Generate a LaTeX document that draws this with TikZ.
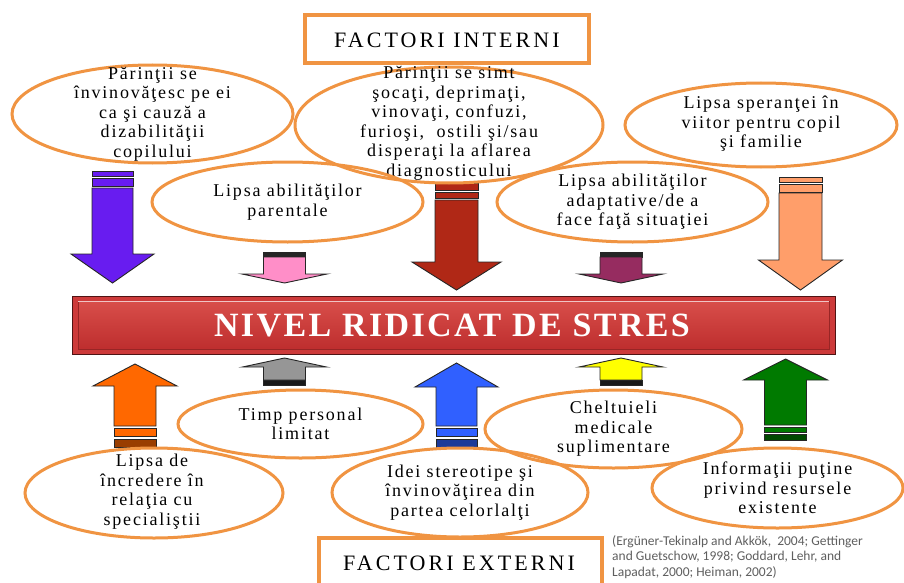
\documentclass[tikz,border=0pt]{standalone}
\usepackage{fontspec}
\setmainfont{Liberation Serif}
\newfontfamily\citefont{Carlito}
\usetikzlibrary{shapes.geometric}
\definecolor{ellor}{RGB}{240,148,66}
\definecolor{cpurple}{RGB}{104,28,240}
\definecolor{cpink}{RGB}{255,142,200}
\definecolor{cdred}{RGB}{176,40,22}
\definecolor{cplum}{RGB}{150,44,96}
\definecolor{clor}{RGB}{255,158,106}
\definecolor{corange}{RGB}{255,104,0}
\definecolor{cgray}{RGB}{150,150,150}
\definecolor{cblue}{RGB}{48,96,255}
\definecolor{cyellow}{RGB}{255,255,0}
\definecolor{cgreen}{RGB}{0,122,0}
\definecolor{barout}{RGB}{205,58,58}
\definecolor{bartop}{RGB}{216,78,74}
\definecolor{barbot}{RGB}{190,46,46}
\definecolor{bardark}{RGB}{80,20,20}
\definecolor{citegray}{RGB}{95,95,95}
\newcommand\ArrShape[7]{% cx, start y, head base y, tip y, colour, shaft half, head half
  \filldraw[arrline, fill=#5] ({#1-#6},#2) -- ({#1+#6},#2) -- ({#1+#6},#3) -- ({#1+#7},#3) -- (#1,#4) -- ({#1-#7},#3) -- ({#1-#6},#3) -- cycle;}
\newcommand\ArrBand[5]{% cx, y1, y2, half width, colour
  \filldraw[arrline, fill=#5] ({#1-#4},#2) rectangle ({#1+#4},#3);}
\begin{document}
\begin{tikzpicture}[x=1pt,y=-1pt,
  arrline/.style={draw=black!85, line width=0.9pt},
  ell/.style={ellipse, draw=ellor, line width=3pt, inner sep=0pt},
  etext/.style={align=center, inner sep=0pt, font=\fontsize{18pt}{19.5pt}\selectfont\addfontfeatures{LetterSpace=10}},
  hbox/.style={draw=ellor, line width=3.5pt, fill=white},
  htext/.style={inner sep=0pt, font=\fontsize{22pt}{24pt}\selectfont\addfontfeatures{LetterSpace=14}}]
\useasboundingbox (0,0) rectangle (904,583);
\fill[white] (0,0) rectangle (904,583);

% ---------- top arrows ----------
\ArrBand{112.5}{171}{176}{20.5}{cpurple}
\ArrBand{112.5}{178}{186}{20.5}{cpurple}
\ArrShape{112.5}{188}{254}{283}{cpurple}{20.5}{41.5}

\ArrBand{284.5}{252}{257}{21}{black!85}
\ArrShape{284.5}{257}{274}{283}{cpink}{21}{42.5}

\ArrBand{456.5}{183}{190}{21.5}{cdred}
\ArrBand{456.5}{192}{198}{21.5}{cdred}
\ArrShape{456.5}{200}{262}{290}{cdred}{21.5}{44.5}

\ArrBand{621}{252}{257}{21}{black!85}
\ArrShape{621}{257}{274}{283}{cplum}{21}{42}

\ArrBand{800.5}{177}{182}{21.5}{clor}
\ArrBand{800.5}{184}{192}{21.5}{clor}
\ArrShape{800.5}{193}{260}{290}{clor}{21.5}{42}

% ---------- bottom arrows ----------
\ArrShape{135}{426}{386}{364}{corange}{21}{42}
\ArrBand{135}{428}{436}{21}{corange}
\ArrBand{135}{439}{447}{21}{corange!60!black}

\ArrShape{284.5}{380}{367}{358}{cgray}{21}{42}
\ArrBand{284.5}{380}{385}{21}{black!90}

\ArrShape{456.5}{426}{387}{363}{cblue}{20.5}{41.5}
\ArrBand{456.5}{428}{436}{20.5}{cblue}
\ArrBand{456.5}{439}{447}{20.5}{cblue!60!black}

\ArrShape{621}{380}{367}{358}{cyellow}{21}{42}
\ArrBand{621}{380}{385}{21}{black!90}

\ArrShape{785.5}{425}{380}{359}{cgreen}{21}{42}
\ArrBand{785.5}{427}{432}{21}{cgreen}
\ArrBand{785.5}{434}{440}{21}{cgreen!60!black}

% ---------- central bar ----------
\filldraw[fill=barout, draw=bardark, line width=1pt] (72,296) rectangle (835,354);
\shade[top color=bartop, bottom color=barbot, draw=barbot!80!black, line width=0.6pt] (78,301) rectangle (829,349);
\draw[white!70!barout, line width=0.8pt] (78,301) -- (829,301);
\node[inner sep=0pt, text=white, font=\fontsize{34pt}{36pt}\selectfont\bfseries\addfontfeatures{LetterSpace=7}] (bar) at (452,325) {NIVEL RIDICAT DE STRES};

% ---------- heading boxes ----------
\draw[hbox] (305,15) rectangle (589,63);
\node[htext] (fi) at (447,40) {FACTORI INTERNI};
\draw[hbox] (319,584) -- (319,538) -- (602,538) -- (602,584);
\node[htext] (fe) at (459,563) {FACTORI EXTERNI};

% ---------- top ellipses ----------
\node[ell, minimum width=281pt, minimum height=98pt] (e1) at (152.5,114) {};
\node[etext] (t1) at (152.5,114) {Părinţii se\\învinovăţesc pe ei\\ca şi cauză a\\dizabilităţii\\copilului};

\node[ell, minimum width=308pt, minimum height=116pt] (e2) at (449,125) {};
\node[etext] (t2) at (449,123.5) {Părinţii se simt\\şocaţi, deprimaţi,\\vinovaţi, confuzi,\\furioşi,\ \ ostili şi/sau\\disperaţi la aflarea\\diagnosticului};

\node[ell, minimum width=271pt, minimum height=80pt] (e3) at (287.5,202) {};
\node[etext] (t3) at (287.5,202) {Lipsa abilităţilor\\parentale};

\node[ell, minimum width=271pt, minimum height=80pt] (e4) at (632.5,202) {};
\node[etext] (t4) at (632.5,202) {Lipsa abilităţilor\\adaptative/de a\\face faţă situaţiei};

\node[ell, minimum width=272pt, minimum height=84pt] (e5) at (761,125) {};
\node[etext] (t5) at (761,124) {Lipsa speranţei în\\viitor pentru copil\\şi familie};

% ---------- bottom ellipses ----------
\node[ell, minimum width=245pt, minimum height=68pt] (e6) at (300.5,424) {};
\node[etext] (t6) at (300.5,424) {Timp personal\\limitat};

\node[ell, minimum width=258pt, minimum height=90pt] (e7) at (154,493) {};
\node[etext] (t7) at (152,491.5) {Lipsa de\\încredere în\\relaţia cu\\specialiştii};

\node[ell, minimum width=256pt, minimum height=89pt] (e8) at (460,492.5) {};
\node[etext] (t8) at (460,492.5) {Idei stereotipe şi\\învinovăţirea din\\partea celorlalţi};

\node[ell, minimum width=257pt, minimum height=78pt] (e9) at (613.5,429) {};
\node[etext] (t9) at (613.5,429) {Cheltuieli\\medicale\\suplimentare};

\node[ell, minimum width=251pt, minimum height=80pt] (e10) at (777.5,488) {};
\node[etext] (t10) at (777.5,488) {Informaţii puţine\\privind resursele\\existente};

% ---------- citation ----------
\node[anchor=north west, align=left, inner sep=0pt, text=citegray, font=\citefont\fontsize{13.5pt}{15.5pt}\selectfont] (cite) at (612,535) {(Ergüner-Tekinalp and Akkök,\ \ 2004; Gettinger\\and Guetschow, 1998; Goddard, Lehr, and\\Lapadat, 2000; Heiman, 2002)};
\end{tikzpicture}
\end{document}
